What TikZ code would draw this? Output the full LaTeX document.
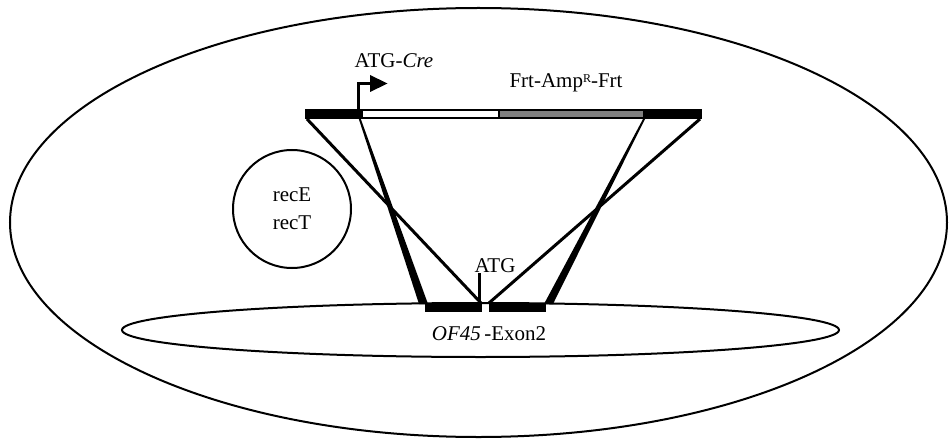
\documentclass[tikz,border=0pt]{standalone}
\usepackage{fontspec}
\setmainfont{Liberation Serif}
\begin{document}
\begin{tikzpicture}[x=1pt,y=-1pt,
  lbl/.style={inner sep=0pt, font=\fontsize{21}{21}\selectfont},
  outline/.style={line width=2pt},
  cross/.style={line width=3pt}]
\useasboundingbox (0,0) rectangle (950,441);
% cell
\draw[outline] (478.5,222.5) ellipse [x radius=468.5pt, y radius=214.5pt];
% chromosome
\draw[outline] (480.5,330) ellipse [x radius=358.5pt, y radius=27pt];
% recE/recT plasmid
\node[circle, draw, line width=2pt, minimum size=118pt, inner sep=0pt,
      align=center, font=\fontsize{21}{28}\selectfont] (rec) at (292,209) {recE\\recT};
% targeting construct bar
\fill[black] (305,109) rectangle (362,119);
\draw[line width=2pt, fill=white] (362,110) rectangle (499,118);
\draw[line width=2pt, fill=black!50] (499,110) rectangle (644,118);
\fill[black] (644,109) rectangle (702,119);
% exon blocks
\fill[black] (425,303) rectangle (482,312);
\fill[black] (489,303) rectangle (546,312);
% named end points
\coordinate (tl) at (307,119);
\coordinate (tr) at (700,119);
\coordinate (bi1) at (481,303);
\coordinate (bi2) at (489,303);
% crossing lines
\draw[cross] (tl) -- (bi1);
\draw[cross] (tr) -- (bi2);
% tapered lines
\fill[black] (358.8,119) -- (360.8,119) -- (428,304) -- (419,304) -- cycle;
\fill[black] (643,119) -- (645,119) -- (553,304) -- (544,304) -- cycle;
% promoter arrow
\coordinate (p0) at (358.5,110);
\coordinate (p1) at (358.5,83.5);
\coordinate (p2) at (372,83.5);
\draw[line width=3pt] (p0) -- (p1) -- (p2);
\fill[black] (370,75) -- (387.5,83.5) -- (370,92) -- cycle;
% ATG tick
\coordinate (a0) at (479.5,273);
\coordinate (a1) at (479.5,303);
\draw[line width=2.5pt] (a0) -- (a1);
% labels
\node[lbl, anchor=base] (cre) at (394,68) {ATG-\textit{Cre}};
\node[lbl, anchor=base] (amp) at (566,88) {Frt-Amp\raisebox{0.55ex}{\fontsize{12}{12}\selectfont R}-Frt};
\node[lbl, anchor=base] (atg) at (495,272) {ATG};
\node[lbl, anchor=base] (exon) at (489,340) {\textit{OF45}\,-Exon2};
\end{tikzpicture}
\end{document}
